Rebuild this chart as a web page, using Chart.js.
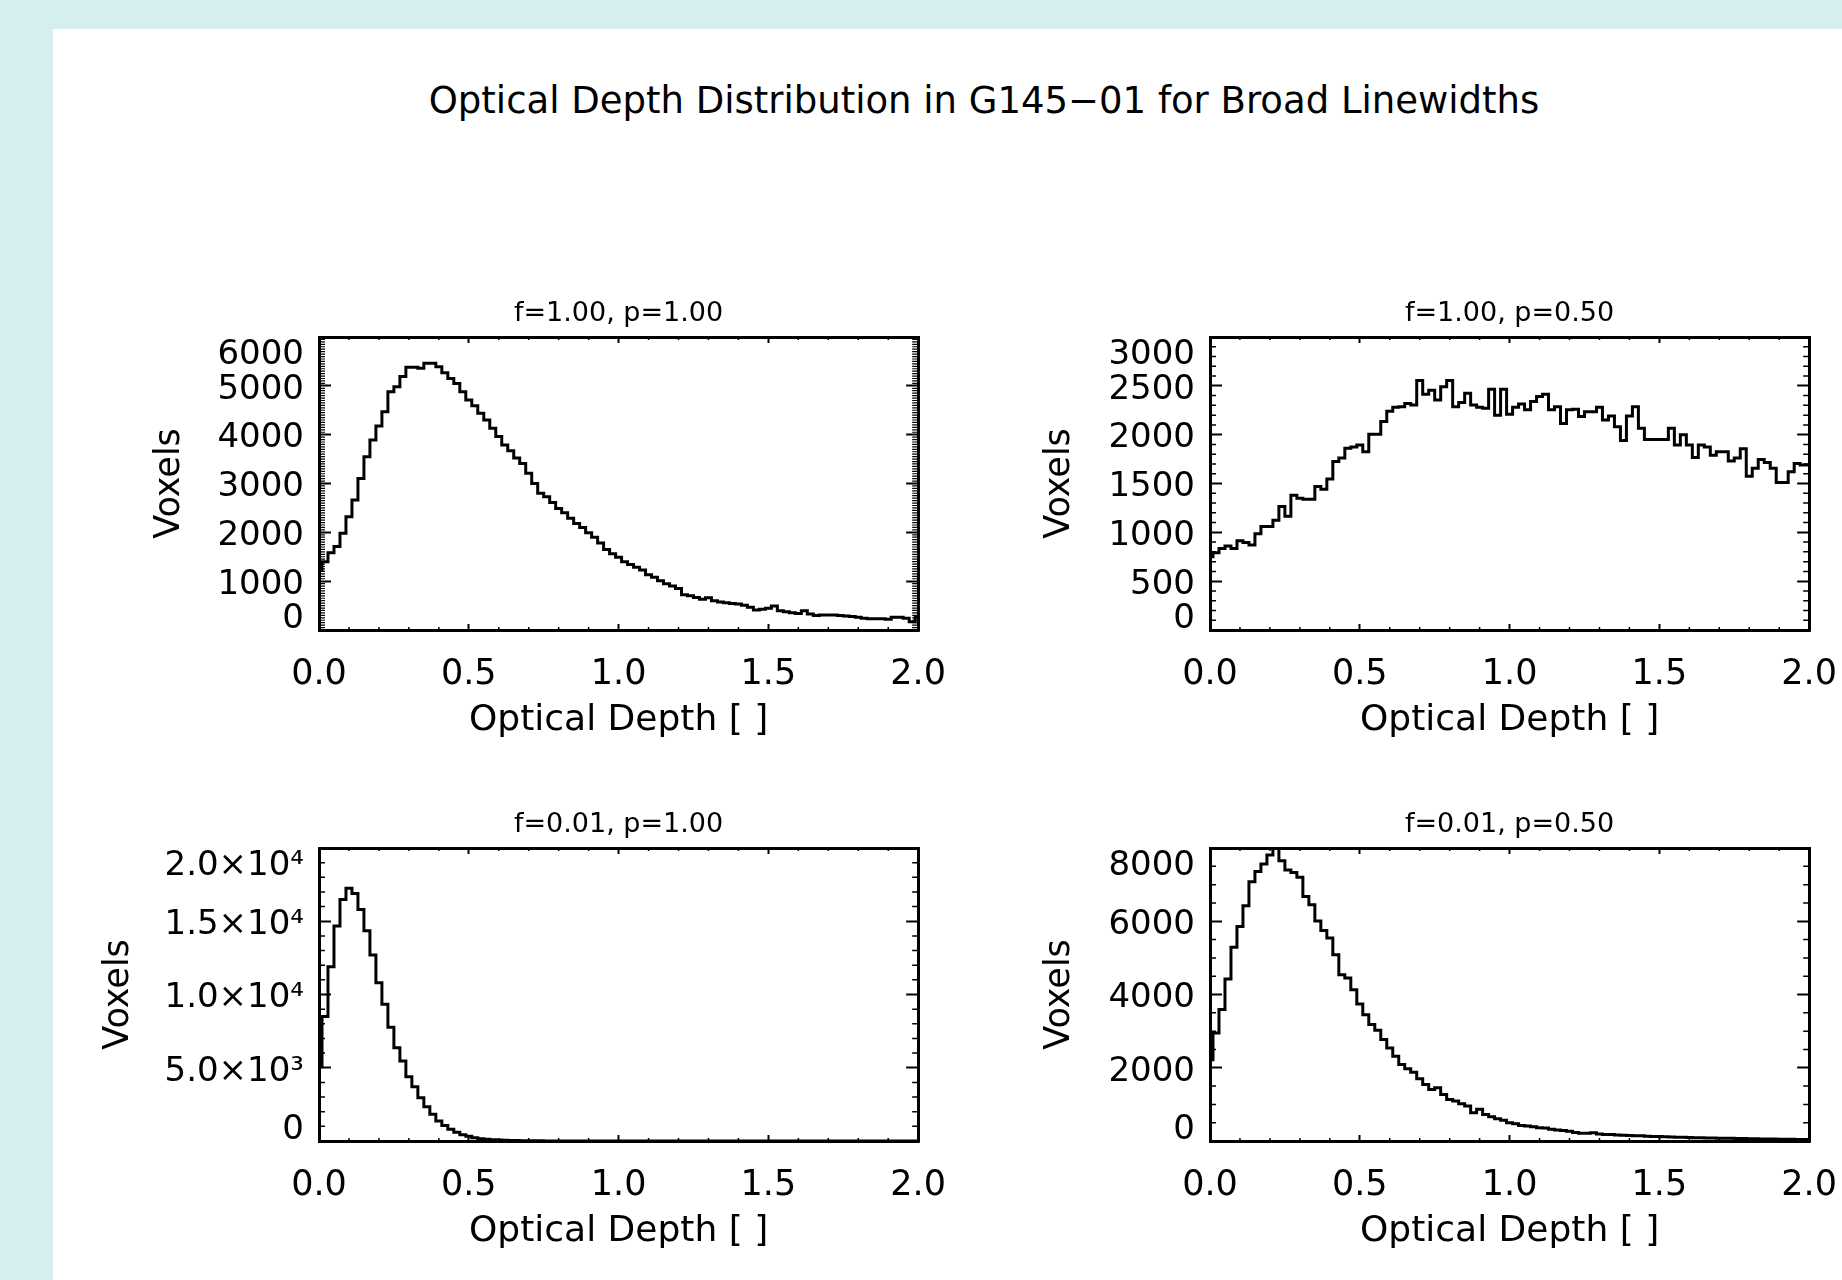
<!DOCTYPE html>
<html>
<head>
<meta charset="utf-8">
<script src="https://cdn.jsdelivr.net/npm/chart.js@4/dist/chart.umd.min.js"></script>
<style>
  html, body { margin: 0; padding: 0; width: 1842px; height: 1280px; overflow: hidden; background: #d5eeee; }
  #sheet { position: absolute; left: 53px; top: 29px; right: 0; bottom: 0; background: #ffffff; }
  #title { position: absolute; left: 984px; top: 82px; transform: translateX(-50%);
           font-family: 'DejaVu Sans'; font-size: 37px; line-height: 37px; white-space: nowrap; color: #000; }
  canvas { position: absolute; }
</style>
</head>
<body>
<div id="sheet"></div>
<div id="title">Optical Depth Distribution in G145−01 for Broad Linewidths</div>
<canvas id="c1"></canvas>
<canvas id="c2"></canvas>
<canvas id="c3"></canvas>
<canvas id="c4"></canvas>
<script>
// ---------------- data ----------------
const binStart = [
  0.00,0.02,0.04,0.06,0.08,0.10,0.12,0.14,0.16,0.18,
  0.20,0.22,0.24,0.26,0.28,0.30,0.32,0.34,0.36,0.38,
  0.40,0.42,0.44,0.46,0.48,0.50,0.52,0.54,0.56,0.58,
  0.60,0.62,0.64,0.66,0.68,0.70,0.72,0.74,0.76,0.78,
  0.80,0.82,0.84,0.86,0.88,0.90,0.92,0.94,0.96,0.98,
  1.00,1.02,1.04,1.06,1.08,1.10,1.12,1.14,1.16,1.18,
  1.20,1.22,1.24,1.26,1.28,1.30,1.32,1.34,1.36,1.38,
  1.40,1.42,1.44,1.46,1.48,1.50,1.52,1.54,1.56,1.58,
  1.60,1.62,1.64,1.66,1.68,1.70,1.72,1.74,1.76,1.78,
  1.80,1.82,1.84,1.86,1.88,1.90,1.92,1.94,1.96,1.98,
  2.00
];

const xTickLabels = ['0.0', '0.5', '1.0', '1.5', '2.0'];

const panelTitles = ['f=1.00, p=1.00', 'f=1.00, p=0.50', 'f=0.01, p=1.00', 'f=0.01, p=0.50'];

const voxelsF100P100 = [
  1230,1400,1580,1710,1980,2320,2660,3100,3550,3890,
  4180,4470,4880,4980,5190,5380,5380,5360,5460,5460,
  5390,5270,5150,5050,4880,4710,4590,4440,4300,4130,
  3960,3790,3670,3520,3410,3210,3000,2800,2730,2610,
  2490,2400,2290,2180,2100,1990,1900,1780,1650,1560,
  1490,1400,1340,1285,1230,1130,1080,1010,945,900,
  850,720,700,665,630,660,600,575,560,545,
  530,505,465,410,425,445,490,395,375,355,
  340,395,330,295,305,305,305,295,285,275,
  260,240,230,230,230,220,260,260,240,170,
  270
];

const voxelsF100P050 = [
  750,790,835,860,835,915,895,870,985,1060,
  1060,1125,1265,1165,1380,1350,1340,1340,1470,1440,
  1545,1725,1760,1860,1875,1895,1825,2005,2005,2135,
  2240,2280,2285,2320,2305,2555,2415,2455,2355,2490,
  2555,2285,2330,2425,2305,2280,2270,2465,2200,2465,
  2210,2280,2315,2255,2340,2390,2415,2255,2285,2115,
  2255,2260,2185,2235,2235,2280,2150,2190,2080,1940,
  2190,2285,2065,1950,1950,1950,1950,2065,1895,2000,
  1895,1765,1895,1875,1790,1825,1825,1730,1760,1855,
  1575,1655,1745,1715,1655,1510,1510,1620,1705,1690,
  1690
];

const voxelsF001P100 = [
  5070,8490,11900,14670,16490,17250,16900,15810,14360,12700,
  10810,9330,7760,6370,5460,4390,3710,2960,2340,1820,
  1370,1050,800,590,430,320,230,160,115,90,
  68,50,38,28,20,15,12,10,8,7,
  6,5,4,4,3,3,2,2,2,1,
  1,1,1,1,0,0,0,0,0,0,
  0,0,0,0,0,0,0,0,0,0,
  0,0,0,0,0,0,0,0,0,0,
  0,0,0,0,0,0,0,0,0,0,
  0,0,0,0,0,0,0,0,0,0,
  0
];

const voxelsF001P050 = [
  2220,2950,3590,4420,5290,5860,6420,7080,7355,7560,
  7810,7990,7655,7400,7330,7200,6675,6450,6010,5750,
  5540,5085,4540,4450,4130,3740,3450,3180,3025,2770,
  2540,2315,2090,1970,1880,1700,1545,1405,1455,1270,
  1135,1090,1015,955,770,865,725,665,610,565,
  500,470,425,410,390,365,355,320,300,290,
  265,230,210,210,225,190,175,175,165,160,
  150,145,140,130,125,120,115,110,105,100,
  95,92,88,85,80,78,75,72,68,65,
  62,60,58,55,52,50,48,45,43,40,
  40
];

const yLabelsA = ['0', '1000', '2000', '3000', '4000', '5000', '6000'];
const yLabelsB = ['0', '500', '1000', '1500', '2000', '2500', '3000'];
const yLabelsC = ['0', '5.0×10³', '1.0×10⁴', '1.5×10⁴', '2.0×10⁴'];
const yLabelsD = ['0', '2000', '4000', '6000', '8000'];

// ---------------- layout ----------------
const FONT = 'DejaVu Sans';
Chart.defaults.font.family = FONT;
Chart.defaults.color = '#000';

const L = 230, R = 60, T = 60, B = 130;
const PLOT_W = 600, PLOT_H = 293;

const minorTickPlugin = {
  id: 'minorTicks',
  beforeDatasetsDraw(chart, args, o) {
    const { ctx, chartArea: a } = chart;
    const xs = chart.scales.x, ys = chart.scales.y;
    ctx.save();
    ctx.strokeStyle = '#000';
    ctx.lineWidth = o.xWidth;
    ctx.beginPath();
    const nx = Math.round((xs.max - xs.min) / o.xStep);
    const px_per = Math.round(o.xMajor / o.xStep);
    for (let k = 1; k < nx; k++) {
      if (k % px_per === 0) continue;
      const p = xs.getPixelForValue(xs.min + k * o.xStep);
      ctx.moveTo(p, a.bottom); ctx.lineTo(p, a.bottom - o.xLen);
      ctx.moveTo(p, a.top); ctx.lineTo(p, a.top + o.xLen);
    }
    ctx.stroke();
    ctx.lineWidth = o.yWidth;
    ctx.beginPath();
    const ny = Math.round((ys.max - ys.min) / o.yStep);
    const py_per = Math.round(o.yMajor / o.yStep);
    for (let k = 1; k < ny; k++) {
      if (k % py_per === 0) continue;
      const p = ys.getPixelForValue(ys.min + k * o.yStep);
      ctx.moveTo(a.left, p); ctx.lineTo(a.left + o.yLen, p);
      ctx.moveTo(a.right, p); ctx.lineTo(a.right - o.yLen, p);
    }
    ctx.stroke();
    ctx.restore();
  }
};

function makeChart(id, p) {
  const canvas = document.getElementById(id);
  canvas.width = L + PLOT_W + R;
  canvas.height = T + PLOT_H + B;
  canvas.style.left = (p.left - L) + 'px';
  canvas.style.top = (p.top - T) + 'px';

  const border = { display: true, color: '#000', width: 3 };
  const gridX = { display: true, drawOnChartArea: false, drawTicks: true, tickLength: -6, tickWidth: 2, tickColor: '#000' };
  const gridY = { display: true, drawOnChartArea: false, drawTicks: true, tickLength: -12, tickWidth: 2, tickColor: '#000' };

  return new Chart(canvas, {
    type: 'line',
    data: {
      datasets: [{
        data: binStart.map((x, i) => ({ x: x, y: p.values[i] })),
        xAxisID: 'x', yAxisID: 'y',
        stepped: 'middle',
        borderColor: '#000', borderWidth: 3,
        pointRadius: 0, fill: false, tension: 0
      }]
    },
    options: {
      responsive: false,
      animation: false,
      devicePixelRatio: 1,
      events: [],
      layout: { padding: 0 },
      plugins: {
        legend: { display: false },
        tooltip: { enabled: false },
        title: { display: false },
        minorTicks: { xStep: 0.1, xMajor: 0.5, xLen: 3, xWidth: 1.5,
                      yStep: p.yMinor, yMajor: p.yStep, yLen: 6, yWidth: p.yMinorWidth }
      },
      scales: {
        x: {
          type: 'linear', position: 'bottom', min: 0, max: 2,
          afterFit: s => { s.height = B; },
          ticks: { stepSize: 0.5, autoSkip: false, maxRotation: 0, minRotation: 0, padding: 33,
                   font: { size: 35, lineHeight: 1 }, color: '#000',
                   callback: (v, i) => xTickLabels[i] },
          grid: gridX, border: border,
          title: { display: true, text: 'Optical Depth [ ]', color: '#000',
                   font: { size: 36, lineHeight: 1 }, padding: { top: 0, bottom: 21 } }
        },
        x2: {
          type: 'linear', position: 'top', min: 0, max: 2,
          afterFit: s => { s.height = T; },
          ticks: { display: false, stepSize: 0.5 },
          grid: gridX, border: border,
          title: { display: true, text: p.title, color: '#000',
                   font: { size: 27, lineHeight: 1 }, padding: { top: 23, bottom: 0 } }
        },
        y: {
          type: 'linear', position: 'left', min: 0, max: p.yMax,
          afterFit: s => { s.width = L; },
          ticks: { stepSize: p.yStep, autoSkip: false, padding: 27, labelOffset: 4, color: '#000',
                   font: { size: 34, lineHeight: '29px' },
                   callback: (v, i, arr) => {
                     const lbl = p.yLabels[i];
                     if (i === 0) return [lbl, ''];
                     if (i === arr.length - 1) return ['', lbl];
                     return lbl;
                   } },
          grid: gridY, border: border,
          title: { display: true, text: 'Voxels', color: '#000',
                   font: { size: 35, lineHeight: 1 }, padding: { top: p.voxPad, bottom: 0 } }
        },
        y2: {
          type: 'linear', position: 'right', min: 0, max: p.yMax,
          afterFit: s => { s.width = R; },
          ticks: { display: false, autoSkip: false, stepSize: p.yStep },
          grid: gridY, border: border
        }
      }
    },
    plugins: [minorTickPlugin]
  });
}

makeChart('c1', { left: 319, top: 337, values: voxelsF100P100, title: panelTitles[0],
  yMax: 6000, yStep: 1000, yMinor: 50, yMinorWidth: 1.2, yLabels: yLabelsA, voxPad: 63 });
makeChart('c2', { left: 1210, top: 337, values: voxelsF100P050, title: panelTitles[1],
  yMax: 3000, yStep: 500, yMinor: 100, yMinorWidth: 1.5, yLabels: yLabelsB, voxPad: 62 });
makeChart('c3', { left: 319, top: 848, values: voxelsF001P100, title: panelTitles[2],
  yMax: 20000, yStep: 5000, yMinor: 1000, yMinorWidth: 1.5, yLabels: yLabelsC, voxPad: 12.5 });
makeChart('c4', { left: 1210, top: 848, values: voxelsF001P050, title: panelTitles[3],
  yMax: 8000, yStep: 2000, yMinor: 500, yMinorWidth: 1.5, yLabels: yLabelsD, voxPad: 62 });
</script>
</body>
</html>
